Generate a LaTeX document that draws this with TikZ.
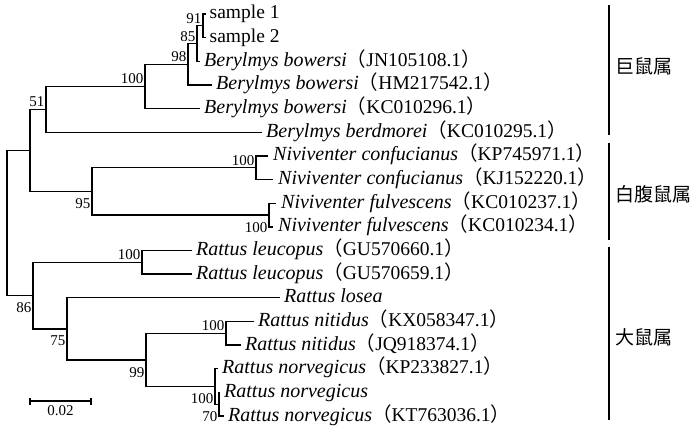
\documentclass[tikz,border=0pt]{standalone}
\usepackage{fontspec}
\setmainfont{Liberation Serif}
\newfontfamily\cjk{Noto Sans CJK SC}
\newcommand\lpar{{\cjk （}}
\newcommand\rpar{{\cjk ）}}
\newcommand\spname[1]{{\fontsize{20}{20}\selectfont\itshape #1}}
\newcommand\brnode[3]{\draw[br] (#2) -- (#1 |- #2) -- (#1 |- #3) -- (#3);}
\begin{document}
\begin{tikzpicture}[x=1pt,y=-1pt,
  br/.style={line width=1.35pt, line join=miter},
  leaf/.style={anchor=base west, inner sep=0pt, font=\fontsize{19.5}{19.5}\selectfont},
  bsup/.style={anchor=base east, inner sep=0pt, font=\fontsize{15}{15}\selectfont},
  bsdn/.style={anchor=north east, inner sep=0pt, font=\fontsize{15}{15}\selectfont},
  grp/.style={line width=1.4pt},
  genus/.style={anchor=west, inner sep=0pt, font=\fontsize{19}{19}\selectfont\cjk}]
\useasboundingbox (0,0) rectangle (700,433);
% leaf line ends
\coordinate (L0) at (205.5,14);
\coordinate (L1) at (205.5,37.65);
\coordinate (L2) at (200,61.3);
\coordinate (L3) at (212,84.95);
\coordinate (L4) at (200,108.6);
\coordinate (L5) at (262,132.25);
\coordinate (L6) at (268,155.9);
\coordinate (L7) at (273,179.55);
\coordinate (L8) at (276,203.2);
\coordinate (L9) at (273,226.85);
\coordinate (L10) at (192,250.5);
\coordinate (L11) at (192,274.15);
\coordinate (L12) at (280,297.8);
\coordinate (L13) at (254,321.45);
\coordinate (L14) at (241,345.1);
\coordinate (L15) at (218,368.75);
\coordinate (L16) at (220,392.4);
\coordinate (L17) at (224,416.05);
% internal nodes
\coordinate (n91) at (203,25.8);
\coordinate (n85) at (197,43.6);
\coordinate (n98) at (188,64.3);
\coordinate (nA1) at (145,86.4);
\coordinate (n51) at (46,109.3);
\coordinate (nC) at (256,167.7);
\coordinate (nF) at (269,215);
\coordinate (n95) at (92,191.4);
\coordinate (nX) at (30,150.4);
\coordinate (nL) at (142,262.3);
\coordinate (nN) at (226,333.3);
\coordinate (nB) at (219,404.2);
\coordinate (nA) at (215,386.5);
\coordinate (n99) at (146,359.9);
\coordinate (n75) at (67,328.9);
\coordinate (n86) at (33,295.6);
\coordinate (root) at (7,223);
% branches
\brnode{n91}{L0}{L1}
\brnode{n85}{n91}{L2}
\brnode{n98}{n85}{L3}
\brnode{nA1}{n98}{L4}
\brnode{n51}{nA1}{L5}
\brnode{nC}{L6}{L7}
\brnode{nF}{L8}{L9}
\brnode{n95}{nC}{nF}
\brnode{nX}{n51}{n95}
\brnode{nL}{L10}{L11}
\brnode{nN}{L13}{L14}
\brnode{nB}{L16}{L17}
\brnode{nA}{L15}{nB}
\brnode{n99}{nN}{nA}
\brnode{n75}{L12}{n99}
\brnode{n86}{nL}{n75}
\brnode{root}{nX}{n86}
% leaf labels
\node[leaf] (t0) at ([shift={(4,5)}]L0) {sample 1};
\node[leaf] (t1) at ([shift={(4,5)}]L1) {sample 2};
\node[leaf] (t2) at ([shift={(4,5)}]L2) {\spname{Berylmys bowersi}\lpar JN105108.1\rpar};
\node[leaf] (t3) at ([shift={(4,5)}]L3) {\spname{Berylmys bowersi}\lpar HM217542.1\rpar};
\node[leaf] (t4) at ([shift={(4,5)}]L4) {\spname{Berylmys bowersi}\lpar KC010296.1\rpar};
\node[leaf] (t5) at ([shift={(4,5)}]L5) {\spname{Berylmys berdmorei}\lpar KC010295.1\rpar};
\node[leaf] (t6) at ([shift={(5,5)}]L6) {\spname{Niviventer confucianus}\lpar KP745971.1\rpar};
\node[leaf] (t7) at ([shift={(5,5)}]L7) {\spname{Niviventer confucianus}\lpar KJ152220.1\rpar};
\node[leaf] (t8) at ([shift={(5,5)}]L8) {\spname{Niviventer fulvescens}\lpar KC010237.1\rpar};
\node[leaf] (t9) at ([shift={(5,5)}]L9) {\spname{Niviventer fulvescens}\lpar KC010234.1\rpar};
\node[leaf] (t10) at ([shift={(4,5)}]L10) {\spname{Rattus leucopus}\lpar GU570660.1\rpar};
\node[leaf] (t11) at ([shift={(4,5)}]L11) {\spname{Rattus leucopus}\lpar GU570659.1\rpar};
\node[leaf] (t12) at ([shift={(4,5)}]L12) {\spname{Rattus losea}};
\node[leaf] (t13) at ([shift={(4,5)}]L13) {\spname{Rattus nitidus}\lpar KX058347.1\rpar};
\node[leaf] (t14) at ([shift={(4,5)}]L14) {\spname{Rattus nitidus}\lpar JQ918374.1\rpar};
\node[leaf] (t15) at ([shift={(4,5)}]L15) {\spname{Rattus norvegicus}\lpar KP233827.1\rpar};
\node[leaf] (t16) at ([shift={(4,5)}]L16) {\spname{Rattus norvegicus}};
\node[leaf] (t17) at ([shift={(4,5)}]L17) {\spname{Rattus norvegicus}\lpar KT763036.1\rpar};
% bootstrap values
\node[bsup] (b91) at ([shift={(-1.5,-2.5)}]n91) {91};
\node[bsup] (b85) at ([shift={(-1.5,-2.5)}]n85) {85};
\node[bsup] (b98) at ([shift={(-1.5,-2.5)}]n98) {98};
\node[bsup] (bA1) at ([shift={(-1.5,-2.5)}]nA1) {100};
\node[bsup] (b51) at ([shift={(-1.5,-2.5)}]n51) {51};
\node[bsup] (bC) at ([shift={(-1.5,-2.5)}]nC) {100};
\node[bsup] (bL) at ([shift={(-1.5,-2.5)}]nL) {100};
\node[bsup] (bN) at ([shift={(-1.5,-2.5)}]nN) {100};
\node[bsdn] (b95) at ([shift={(-1.5,7)}]n95) {95};
\node[bsdn] (bF) at ([shift={(-1.5,7)}]nF) {100};
\node[bsdn] (b86) at ([shift={(-1.5,7)}]n86) {86};
\node[bsdn] (b75) at ([shift={(-1.5,7)}]n75) {75};
\node[bsdn] (b99) at ([shift={(-1.5,7)}]n99) {99};
\node[bsdn] (bA) at ([shift={(-1.5,7)}]nA) {100};
\node[bsdn] (bB) at ([shift={(-1.5,7)}]nB) {70};
% scale bar
\coordinate (s1) at (30,401);
\coordinate (s2) at (91,401);
\draw[br] (s1) -- (s2);
\draw[br] ([yshift=-3.5]s1) -- ([yshift=3.5]s1);
\draw[br] ([yshift=-3.5]s2) -- ([yshift=3.5]s2);
\node[anchor=north, inner sep=0pt, font=\fontsize{15}{15}\selectfont] (sl) at (60.5,405) {0.02};
% genus groups
\coordinate (g1a) at (609,5);   \coordinate (g1b) at (609,135);
\coordinate (g2a) at (609,143); \coordinate (g2b) at (609,240);
\coordinate (g3a) at (609,247); \coordinate (g3b) at (609,420);
\draw[grp] (g1a) -- (g1b);
\draw[grp] (g2a) -- (g2b);
\draw[grp] (g3a) -- (g3b);
\node[genus] (G1) at (615,66) {巨鼠属};
\node[genus] (G2) at (615,194) {白腹鼠属};
\node[genus] (G3) at (615,337) {大鼠属};
\end{tikzpicture}
\end{document}
